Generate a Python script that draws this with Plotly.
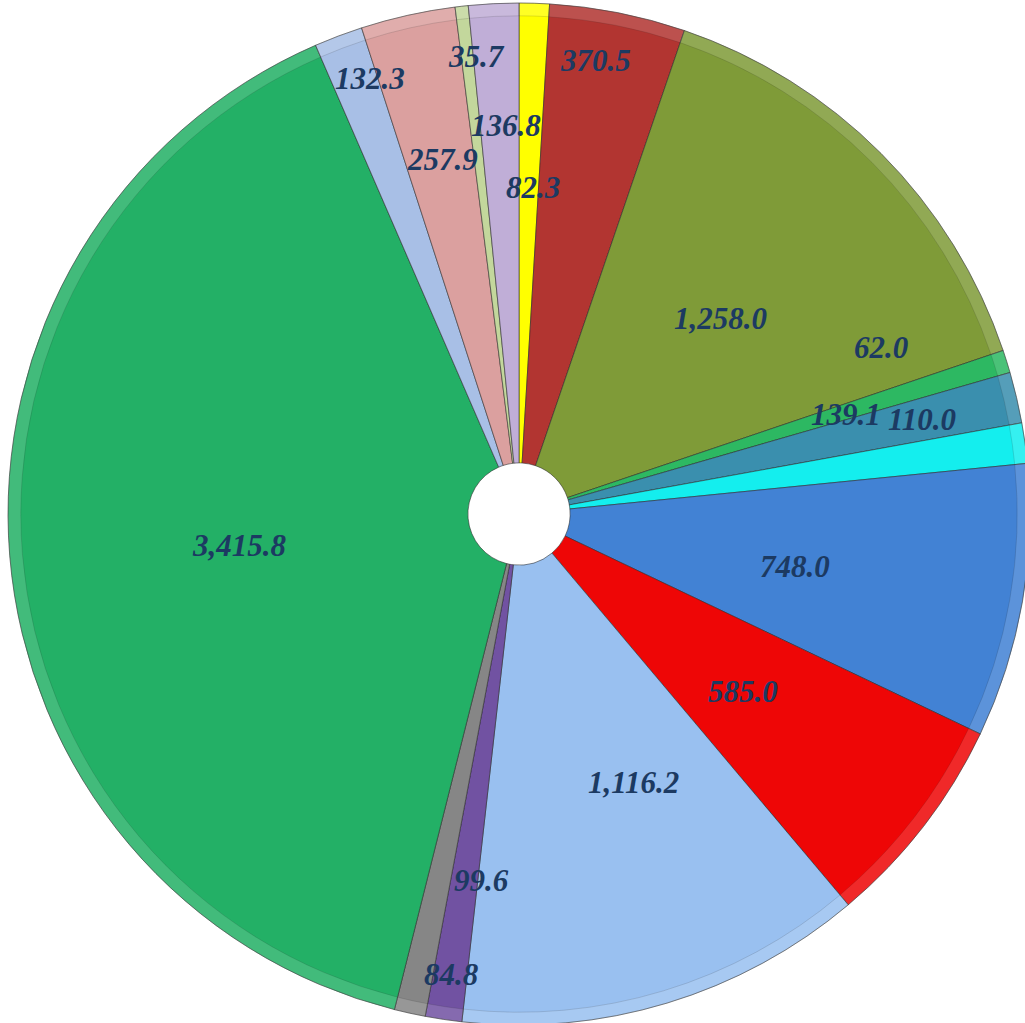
import math
import plotly.graph_objects as go

# ---- data ----
values = [82.3, 370.5, 1258.0, 62.0, 139.1, 110.0, 748.0, 585.0,
          1116.2, 99.6, 84.8, 3415.8, 132.3, 257.9, 35.7, 136.8]
text_labels = ["82.3", "370.5", "1,258.0", "62.0", "139.1", "110.0", "748.0", "585.0",
               "1,116.2", "99.6", "84.8", "3,415.8", "132.3", "257.9", "35.7", "136.8"]
colors = ["#FFFF00", "#B23531", "#7F9B38", "#2DB862", "#3A8FAE", "#14EEEE", "#4282D4", "#EE0606",
          "#99C0F0", "#7152A2", "#868686", "#23B066", "#A8BFE6", "#DBA09F", "#C3D79C", "#C0AED7"]

# label placement tweaks (radius fraction, angle offset in degrees)
label_r = [0.64, 0.90, 0.55, 0.78, 0.67, 0.81, 0.55, 0.56,
           0.57, 0.72, 0.91, 0.55, 0.90, 0.71, 0.90, 0.76]
label_dtheta = [0.8, -1.6, 0.8, -7.4, -3.8, -5.2, 0.8, 0.7,
                -6.2, -2.7, -4.0, -1.8, 1.8, 0.4, 1.2, 0.9]

W, H = 1030, 1026
dom_x = [0.0078, 1.0]
dom_y = [0.0, 0.998]

fig = go.Figure()
fig.add_trace(go.Pie(
    values=values,
    sort=False,
    direction="clockwise",
    rotation=0,
    hole=0.1,
    marker=dict(colors=colors, line=dict(color="rgba(40,40,40,0.55)", width=1)),
    textinfo="none",
    hoverinfo="skip",
    domain=dict(x=dom_x, y=dom_y),
    showlegend=False,
))
# subtle highlight rim for bevel effect
fig.add_trace(go.Pie(
    values=values,
    sort=False,
    direction="clockwise",
    rotation=0,
    hole=0.975,
    marker=dict(colors=["rgba(255,255,255,0.14)"] * len(values),
                line=dict(color="rgba(40,40,40,0.3)", width=0.5)),
    textinfo="none",
    hoverinfo="skip",
    domain=dict(x=dom_x, y=dom_y),
    showlegend=False,
))

# label annotations positioned from the data's cumulative angles
total = sum(values)
cx = (dom_x[0] + dom_x[1]) / 2
cy = (dom_y[0] + dom_y[1]) / 2
R_px = min((dom_x[1] - dom_x[0]) * W, (dom_y[1] - dom_y[0]) * H) / 2
cum = 0.0
annotations = []
for v, t, rf, dth in zip(values, text_labels, label_r, label_dtheta):
    mid = (cum + v / 2) / total * 360 + dth
    cum += v
    a = math.radians(mid)
    x = cx + rf * R_px * math.sin(a) / W
    y = cy + rf * R_px * math.cos(a) / H
    annotations.append(dict(
        x=x, y=y, xref="paper", yref="paper", text=t, showarrow=False,
        xanchor="center", yanchor="middle",
        font=dict(family="Liberation Serif", size=31, color="#1C3A62",
                  weight="bold", style="italic"),
    ))

fig.update_layout(
    width=W, height=H,
    margin=dict(l=0, r=0, t=0, b=0),
    paper_bgcolor="white",
    plot_bgcolor="white",
    annotations=annotations,
)
fig.write_html(
    "out.html",
    config={"displayModeBar": False},
    post_script="document.body.style.margin='0';document.body.style.overflow='hidden';"
                "document.documentElement.style.overflow='hidden';",
)
